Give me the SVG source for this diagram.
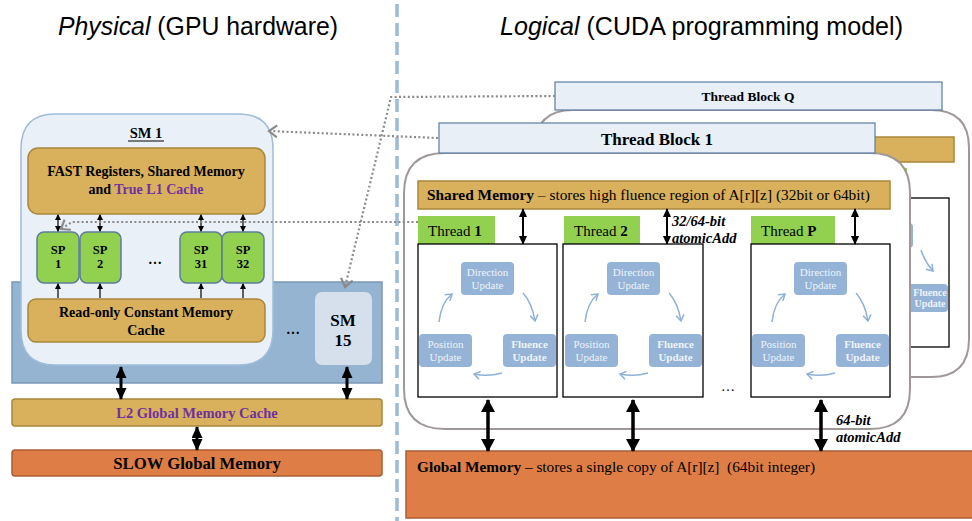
<svg xmlns="http://www.w3.org/2000/svg" width="972" height="521" viewBox="0 0 972 521">
<defs>
<style>
.serif{font-family:"Liberation Serif","Times New Roman",serif;}
.sans{font-family:"Liberation Sans",Arial,sans-serif;}
.b{font-weight:bold;}
.gold{fill:#D9B15C;stroke:#A8873B;stroke-width:1.5;}
.sp{fill:#92D050;stroke:#5E7C99;stroke-width:1.5;}
.tlabel{fill:#92D050;}
.hdr{fill:#E8EFF7;stroke:#5B7CA3;stroke-width:1.2;}
.blk{fill:#FFFFFF;stroke:#A09898;stroke-width:2;}
.tbox{fill:#FFFFFF;stroke:#000000;stroke-width:1.3;}
.cyc{fill:#95B3D7;}
.cyct{fill:#EEF3F9;font-size:11px;text-anchor:middle;}
.carr{fill:none;stroke:#8FB0D5;stroke-width:1.5;marker-end:url(#hc);}
.dot{fill:none;stroke:#8A8A8A;stroke-width:2.2;stroke-dasharray:2 2.4;marker-end:url(#hd);}
.a1{stroke:#000;stroke-width:1.2;marker-start:url(#hs);marker-end:url(#hs);}
.a1u{stroke:#000;stroke-width:1.2;marker-end:url(#hs);}
.a2{stroke:#000;stroke-width:2;marker-start:url(#hm);marker-end:url(#hm);}
.a3{stroke:#000;stroke-width:3;marker-start:url(#hb);marker-end:url(#hb);}
.a4{stroke:#000;stroke-width:3.5;marker-start:url(#hB);marker-end:url(#hB);}
.orange{fill:#DE7E46;stroke:#A95F33;stroke-width:1.5;}
</style>
<marker id="hs" markerUnits="userSpaceOnUse" markerWidth="6" markerHeight="6" refX="5" refY="3" orient="auto-start-reverse"><path d="M0,0 L6,3 L0,6 z" fill="#000"/></marker>
<marker id="hm" markerUnits="userSpaceOnUse" markerWidth="9" markerHeight="8" refX="8" refY="4" orient="auto-start-reverse"><path d="M0,0 L9,4 L0,8 z" fill="#000"/></marker>
<marker id="hb" markerUnits="userSpaceOnUse" markerWidth="12" markerHeight="11" refX="11" refY="5.5" orient="auto-start-reverse"><path d="M0,0 L12,5.5 L0,11 z" fill="#000"/></marker>
<marker id="hB" markerUnits="userSpaceOnUse" markerWidth="13" markerHeight="14" refX="12" refY="7" orient="auto-start-reverse"><path d="M0,0 L13,7 L0,14 z" fill="#000"/></marker>
<marker id="hd" markerUnits="userSpaceOnUse" markerWidth="12" markerHeight="14" refX="9" refY="7" orient="auto"><path d="M1,1 L9,7 L1,13" fill="none" stroke="#8A8A8A" stroke-width="2.2"/></marker>
<marker id="hc" markerUnits="userSpaceOnUse" markerWidth="10" markerHeight="10" refX="7" refY="5" orient="auto"><path d="M1,1 L7,5 L1,9" fill="none" stroke="#8FB0D5" stroke-width="1.5"/></marker>
</defs>
<rect width="972" height="521" fill="#FFFFFF"/>

<g id="titles">
<text class="sans" x="58" y="35" font-size="26" textLength="280" lengthAdjust="spacingAndGlyphs"><tspan font-style="italic">Physical</tspan> (GPU hardware)</text>
<text class="sans" x="500" y="35" font-size="26" textLength="403" lengthAdjust="spacingAndGlyphs"><tspan font-style="italic">Logical</tspan> (CUDA programming model)</text>
</g>
<line id="divider" x1="397" y1="4" x2="397" y2="521" stroke="#9BBBDA" stroke-width="3.5" stroke-dasharray="13 6"/>

<!-- LEFT: physical -->
<g id="sm-array">
<rect x="12" y="282" width="370" height="101" fill="#95B4D2" stroke="#7A98B8" stroke-width="1.5"/>
</g>
<g id="sm1">
<path d="M55,114 L238,114 Q273,114 273,149 L273,330 Q273,365 238,365 L55,365 Q21,365 21,330 L21,149 Q21,114 55,114 Z" fill="#EAF0F8" stroke="#9DBDDA" stroke-width="1.5"/>
<text class="serif b" x="146" y="138" font-size="14.5" text-anchor="middle">SM 1</text>
<line x1="128" y1="141" x2="164" y2="141" stroke="#000" stroke-width="1"/>
</g>
<g id="fast">
<rect class="gold" x="28" y="148" width="237" height="66" rx="10"/>
<text class="serif b" x="146" y="176" font-size="14" text-anchor="middle">FAST Registers, Shared Memory</text>
<text class="serif b" x="146" y="194" font-size="14" text-anchor="middle">and <tspan fill="#7030A0">True L1 Cache</tspan></text>
</g>
<g id="sp1"><rect class="sp" x="37" y="232" width="42" height="51" rx="7"/><text class="serif b" font-size="12.5" text-anchor="middle"><tspan x="58" y="254">SP</tspan><tspan x="58" y="268">1</tspan></text></g>
<g id="sp2"><rect class="sp" x="80" y="232" width="41" height="51" rx="7"/><text class="serif b" font-size="12.5" text-anchor="middle"><tspan x="100" y="254">SP</tspan><tspan x="100" y="268">2</tspan></text></g>
<g id="sp31"><rect class="sp" x="180" y="232" width="42" height="51" rx="7"/><text class="serif b" font-size="12.5" text-anchor="middle"><tspan x="201" y="254">SP</tspan><tspan x="201" y="268">31</tspan></text></g>
<g id="sp32"><rect class="sp" x="222" y="232" width="42" height="51" rx="7"/><text class="serif b" font-size="12.5" text-anchor="middle"><tspan x="243" y="254">SP</tspan><tspan x="243" y="268">32</tspan></text></g>
<text class="serif b" x="155" y="264" font-size="14" text-anchor="middle">…</text>
<g id="readonly">
<rect class="gold" x="28" y="299" width="237" height="43" rx="8"/>
<text class="serif b" x="146" y="317" font-size="14" text-anchor="middle">Read-only Constant Memory</text>
<text class="serif b" x="146" y="335" font-size="14" text-anchor="middle">Cache</text>
</g>
<text class="serif b" x="293" y="334" font-size="14" text-anchor="middle">…</text>
<g id="sm15">
<rect x="315" y="292" width="57" height="73" rx="7" fill="#D6E0ED"/>
<text class="serif b" x="343" y="326" font-size="17" text-anchor="middle">SM</text>
<text class="serif b" x="343" y="346" font-size="17" text-anchor="middle">15</text>
</g>
<g id="l2">
<rect class="gold" x="12" y="399" width="370" height="27" rx="3"/>
<text class="serif b" x="197" y="418" font-size="14.5" text-anchor="middle" fill="#7030A0">L2 Global Memory Cache</text>
</g>
<g id="slow">
<rect class="orange" x="12" y="450" width="370" height="26" rx="3"/>
<text class="serif b" x="197" y="469" font-size="16.7" text-anchor="middle">SLOW Global Memory</text>
</g>

<!-- RIGHT: logical -->
<g id="thread-block-q">
<path d="M573,110 L931,110 Q969,110 969,148 L969,339 Q969,377 931,377 L573,377 Q535,377 535,339 L535,148 Q535,110 573,110 Z" class="blk"/>
<rect class="gold" x="820" y="137" width="134" height="25"/>
<rect class="tlabel" x="835" y="168" width="72" height="25"/>
<rect class="tbox" x="862" y="198" width="87" height="149"/>
<rect class="cyc" x="866" y="223" width="47" height="25" rx="4"/>
<rect class="cyc" x="900" y="284" width="48" height="28" rx="4"/>
<text class="serif b cyct" style="font-size:10px"><tspan x="930" y="296">Fluence</tspan><tspan x="930" y="307">Update</tspan></text>
<path class="carr" d="M921,250 Q925,262 933,271"/>
<rect class="hdr" x="555" y="82" width="387" height="28"/>
<text class="serif b" x="748" y="101" font-size="13.5" text-anchor="middle">Thread Block Q</text>
</g>

<g id="thread-block-1">
<path d="M445,153 L870,153 Q910,153 910,193 L910,389 Q910,429 870,429 L445,429 Q404,429 404,389 L404,193 Q404,153 445,153 Z" class="blk"/>
<rect class="hdr" x="439" y="123" width="436" height="30"/>
<text class="serif b" x="657" y="145" font-size="17" text-anchor="middle">Thread Block 1</text>
</g>
<g id="shared-memory">
<rect class="gold" x="418" y="181" width="472" height="28"/>
<text class="serif" x="427" y="200" font-size="15.4"><tspan class="b">Shared Memory</tspan> – stores high fluence region of A[r][z] (32bit or 64bit)</text>
</g>

<g id="thread-1">
<rect class="tlabel" x="418" y="216" width="77" height="28"/>
<text class="serif" x="428" y="236" font-size="15">Thread <tspan class="b">1</tspan></text>
<rect class="tbox" x="418" y="244" width="139" height="153"/>
<rect class="cyc" x="461" y="262" width="53" height="33" rx="4"/>
<text class="serif cyct"><tspan x="487.5" y="276">Direction</tspan><tspan x="487.5" y="289">Update</tspan></text>
<rect class="cyc" x="419" y="334" width="53" height="33" rx="4"/>
<text class="serif cyct"><tspan x="445.5" y="348">Position</tspan><tspan x="445.5" y="361">Update</tspan></text>
<rect class="cyc" x="503" y="334" width="53" height="33" rx="4"/>
<text class="serif b cyct"><tspan x="529.5" y="348">Fluence</tspan><tspan x="529.5" y="361">Update</tspan></text>
<path class="carr" d="M439,322 Q441,303 452,294"/>
<path class="carr" d="M523,293 Q532,303 535,321"/>
<path class="carr" d="M502,373 Q488,377 474,374"/>
</g>

<g id="thread-2">
<rect class="tlabel" x="564" y="216" width="76" height="28"/>
<text class="serif" x="574" y="236" font-size="15">Thread <tspan class="b">2</tspan></text>
<rect class="tbox" x="563" y="244" width="140" height="153"/>
<rect class="cyc" x="607" y="262" width="53" height="33" rx="4"/>
<text class="serif cyct"><tspan x="633.5" y="276">Direction</tspan><tspan x="633.5" y="289">Update</tspan></text>
<rect class="cyc" x="565" y="334" width="53" height="33" rx="4"/>
<text class="serif cyct"><tspan x="591.5" y="348">Position</tspan><tspan x="591.5" y="361">Update</tspan></text>
<rect class="cyc" x="649" y="334" width="53" height="33" rx="4"/>
<text class="serif b cyct"><tspan x="675.5" y="348">Fluence</tspan><tspan x="675.5" y="361">Update</tspan></text>
<path class="carr" d="M585,322 Q587,303 598,294"/>
<path class="carr" d="M669,293 Q678,303 681,321"/>
<path class="carr" d="M648,373 Q634,377 620,374"/>
</g>

<text class="serif" x="728" y="391" font-size="14" text-anchor="middle">…</text>

<g id="thread-p">
<rect class="tlabel" x="751" y="216" width="84" height="28"/>
<text class="serif" x="761" y="236" font-size="15">Thread <tspan class="b">P</tspan></text>
<rect class="tbox" x="751" y="244" width="139" height="153"/>
<rect class="cyc" x="794" y="262" width="53" height="33" rx="4"/>
<text class="serif cyct"><tspan x="820.5" y="276">Direction</tspan><tspan x="820.5" y="289">Update</tspan></text>
<rect class="cyc" x="752" y="334" width="53" height="33" rx="4"/>
<text class="serif cyct"><tspan x="778.5" y="348">Position</tspan><tspan x="778.5" y="361">Update</tspan></text>
<rect class="cyc" x="836" y="334" width="53" height="33" rx="4"/>
<text class="serif b cyct"><tspan x="862.5" y="348">Fluence</tspan><tspan x="862.5" y="361">Update</tspan></text>
<path class="carr" d="M772,322 Q774,303 785,294"/>
<path class="carr" d="M856,293 Q865,303 868,321"/>
<path class="carr" d="M835,373 Q821,377 807,374"/>
</g>

<g id="global-memory">
<rect class="orange" x="406" y="451" width="580" height="67"/>
<text class="serif" x="417" y="472" font-size="15.3" xml:space="preserve"><tspan class="b">Global Memory</tspan> – stores a single copy of A[r][z]  (64bit integer)</text>
</g>

<g id="connectors">
<line class="a1" x1="58" y1="215" x2="58" y2="231"/>
<line class="a1" x1="100" y1="215" x2="100" y2="231"/>
<line class="a1" x1="201" y1="215" x2="201" y2="231"/>
<line class="a1" x1="243" y1="215" x2="243" y2="231"/>
<line class="a1u" x1="58" y1="298" x2="58" y2="284"/>
<line class="a1u" x1="100" y1="298" x2="100" y2="284"/>
<line class="a1u" x1="201" y1="298" x2="201" y2="284"/>
<line class="a1u" x1="243" y1="298" x2="243" y2="284"/>
<line class="a3" x1="121" y1="367" x2="121" y2="399"/>
<line class="a3" x1="347" y1="367" x2="347" y2="399"/>
<line class="a3" x1="197" y1="427" x2="197" y2="450"/>
<line class="a2" x1="523" y1="209" x2="523" y2="244"/>
<line class="a2" x1="667" y1="209" x2="667" y2="244"/>
<line class="a2" x1="855" y1="209" x2="855" y2="244"/>
<line class="a4" x1="488" y1="400" x2="488" y2="451"/>
<line class="a4" x1="633" y1="400" x2="633" y2="451"/>
<line class="a4" x1="821" y1="400" x2="821" y2="451"/>
<text class="serif b" font-size="14.5" font-style="italic"><tspan x="672" y="226">32/64-bit</tspan><tspan x="672" y="243">atomicAdd</tspan></text>
<text class="serif b" font-size="14.5" font-style="italic"><tspan x="836" y="425">64-bit</tspan><tspan x="836" y="442">atomicAdd</tspan></text>
<path class="dot" d="M555,96 L391,97 L345,287"/>
<path class="dot" d="M438,138 L269,131"/>
<path class="dot" d="M418,222 L72,222 L61,229"/>
</g>
</svg>
